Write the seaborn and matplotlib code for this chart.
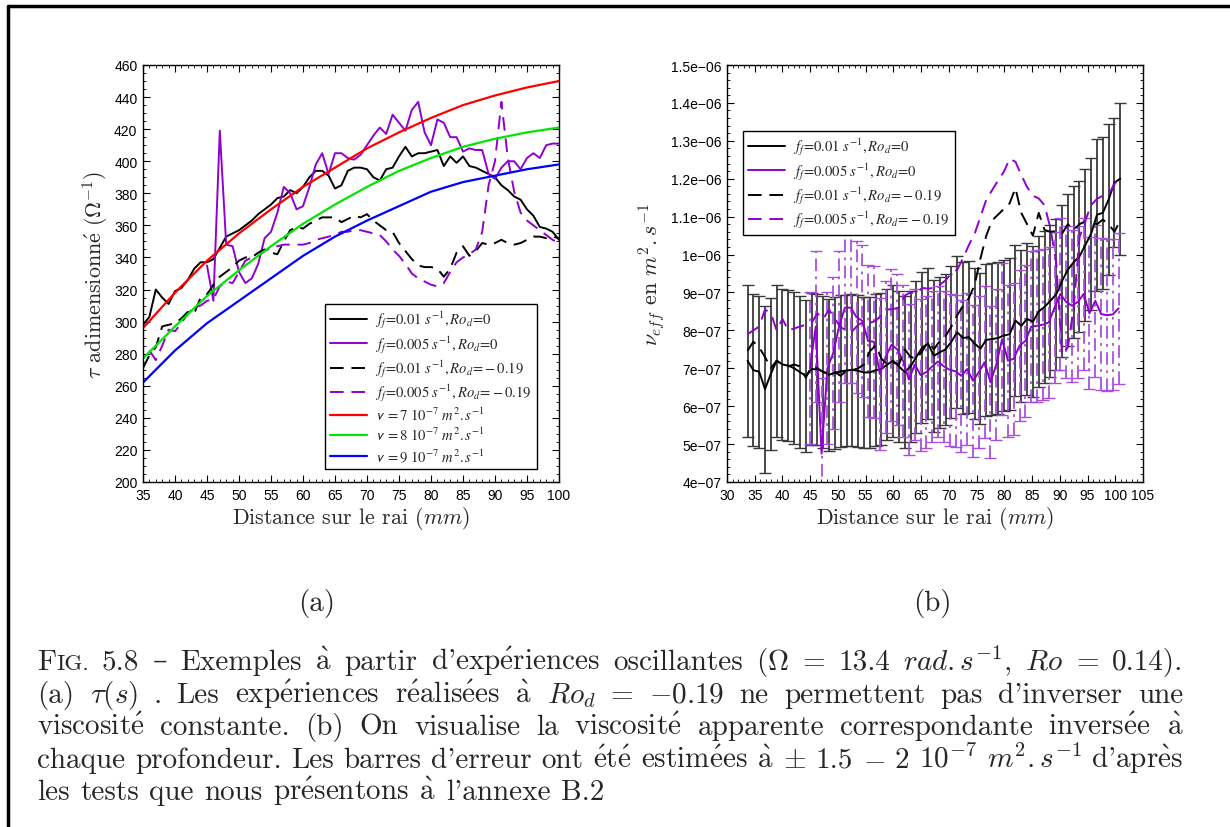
import numpy as np
import matplotlib
matplotlib.use('Agg')
import matplotlib.pyplot as plt
from matplotlib.lines import Line2D
from matplotlib.ticker import MultipleLocator
from matplotlib.font_manager import FontProperties
import seaborn as sns

# ---------------- (a) tau adimensionné en fonction de la distance ----------------
dist_f01_ro0 = list(range(35, 101))
tau_f01_ro0 = [298, 303, 320, 315, 311, 319, 321, 326, 333, 337, 337, 339, 346, 353, 355, 357,
               360, 363, 367, 370, 373, 377, 378, 382, 380, 384, 390, 394, 394, 391, 383, 385,
               394, 396, 396, 395, 390, 388, 395, 396, 403, 409, 403, 405, 405, 406, 407, 397,
               403, 399, 403, 397, 396, 394, 392, 390, 385, 382, 378, 376, 370, 366, 359, 358,
               356, 351]

dist_f005_ro0 = list(range(45, 101))
tau_f005_ro0 = [335, 313, 419, 348, 347, 331, 324, 327, 336, 352, 356, 368, 384, 380, 370, 372,
                384, 398, 405, 392, 405, 405, 402, 401, 404, 410, 416, 421, 417, 429, 424, 419,
                432, 437, 418, 410, 426, 424, 415, 415, 406, 408, 407, 407, 392, 389, 396, 400,
                400, 395, 402, 405, 402, 410, 411, 411]

dist_f01_rod = list(range(35, 101))
tau_f01_rod = [271, 279, 284, 297, 298, 299, 302, 306, 305, 315, 317, 323, 328, 331, 334, 338,
               340, 340, 343, 345, 343, 342, 350, 357, 359, 358, 361, 363, 365, 365, 365, 362,
               364, 366, 365, 367, 363, 360, 357, 356, 349, 344, 339, 335, 334, 334, 333, 328,
               333, 343, 347, 341, 344, 349, 348, 349, 351, 349, 348, 349, 351, 353, 353, 352,
               353, 352]

dist_f005_rod = list(range(36, 101))
tau_f005_rod = [282, 276, 285, 295, 294, 299, 305, 309, 310, 313, 314, 322, 325, 324, 331, 338,
                340, 341, 344, 346, 347, 348, 348, 348, 348, 349, 351, 352, 353, 354, 356, 356,
                357, 357, 356, 355, 354, 350, 345, 341, 336, 330, 327, 325, 323, 322, 324, 331,
                337, 340, 342, 345, 356, 385, 400, 437, 402, 381, 368, 363, 360, 357, 354, 351,
                349]

dist_theo = list(range(35, 101, 5))
tau_nu7 = [296, 318, 338, 355, 370, 384, 396, 408, 418, 427, 435, 441, 446, 450]
tau_nu8 = [277, 297, 316, 332, 347, 361, 373, 384, 394, 402, 409, 414, 418, 421]
tau_nu9 = [262, 282, 299, 313, 327, 341, 353, 363, 372, 381, 387, 391, 395, 398]

# ---------------- (b) viscosité effective (x 1e-7 m2/s) ----------------
dist_b = np.round(33.7 + 1.05 * np.arange(65), 2)
nu_f01_ro0 = [7.2, 6.95, 6.91, 6.45, 6.85, 7.2, 7.1, 7.07, 7.0, 6.9, 6.8, 6.98, 6.97, 6.91, 6.83,
              6.88, 6.92, 6.94, 6.96, 6.93, 6.89, 6.89, 6.95, 6.98, 7.1, 7.2, 7.05, 6.9, 7.05,
              7.3, 7.55, 7.65, 7.33, 7.42, 7.5, 7.7, 7.95, 7.8, 7.82, 7.65, 7.52, 7.75, 7.77,
              7.8, 7.86, 7.9, 8.26, 8.12, 8.3, 8.23, 8.5, 8.62, 8.78, 8.95, 9.3, 9.6, 9.8, 9.95,
              10.25, 10.55, 11.05, 11.1, 11.45, 11.9, 12.0]
err_f01_ro0 = [2.0, 2.0, 2.0, 2.2, 2.0, 2.0, 2.0, 2.0, 2.0, 2.0, 2.0, 2.0, 2.0, 2.0, 2.0,
               2.0, 2.0, 2.0, 2.0, 2.0, 2.0, 2.0, 2.0, 2.0, 2.0, 2.0, 2.0, 2.0, 2.0,
               2.0, 2.0, 2.0, 2.0, 2.0, 2.0, 2.0, 2.0, 2.0, 2.0, 2.0, 2.0, 2.0, 2.0,
               2.0, 2.0, 2.0, 2.0, 2.0, 2.0, 2.0, 2.0, 2.0, 2.0, 2.0, 2.0, 2.0, 2.0, 2.0,
               2.0, 2.0, 2.0, 2.0, 2.0, 1.7, 2.0]

dist_b_f005 = np.round(44.95 + 1.05 * np.arange(54), 2)
nu_f005_ro0 = [7.0, 8.1, 4.75, 7.0, 7.4, 8.1, 8.6, 8.6, 8.35, 8.25, 7.72, 7.7, 6.85, 7.3, 7.62,
               7.5, 7.2, 6.7, 7.1, 6.82, 6.9, 7.05, 7.18, 7.05, 6.96, 6.92, 6.8, 6.98, 6.67, 6.9,
               7.16, 6.63, 7.1, 7.77, 7.2, 7.25, 7.6, 7.72, 8.1, 8.12, 8.15, 8.21, 8.6, 8.96,
               8.75, 8.65, 8.75, 8.96, 8.45, 8.78, 8.43, 8.4, 8.42, 8.58]
err_f005_ro0 = [2.0] * 54

nu_f01_rod = [7.46, 7.7, 7.55, 7.3, 7.0, 7.2, 7.1, 7.05, 7.1, 7.05, 6.75, 7.05, 7.0, 6.9, 6.85,
              6.9, 6.8, 6.95, 6.95, 7.0, 7.1, 7.45, 7.6, 7.25, 7.1, 7.15, 7.1, 7.5, 7.3, 7.25,
              7.45, 7.7, 7.5, 7.72, 7.85, 8.1, 8.4, 8.65, 8.85, 9.2, 9.9, 10.5, 10.9, 11.05,
              11.2, 11.35, 11.75, 11.1, 10.8, 10.5, 11.1, 10.65, 10.6, 10.62, 10.55, 10.8, 10.65,
              10.8, 10.88, 10.85, 10.8, 10.92, 10.8, 10.6, 10.9]
nu_f005_rod = [7.9, 8.0, 8.1, 8.55, 8.45, 8.0, 8.3, 8.0, 8.05, 8.1, 8.15, 8.2, 8.45, 8.3, 8.55,
               8.3, 8.08, 8.0, 7.98, 8.15, 8.22, 8.2, 8.25, 8.4, 8.55, 8.56, 8.6, 8.92, 9.0,
               8.98, 9.12, 9.1, 9.12, 9.2, 9.32, 9.5, 9.6, 9.9, 10.25, 10.55, 11.0, 11.45, 11.7,
               11.95, 12.18, 12.52, 12.45, 12.1, 11.78, 11.55, 11.48, 11.3, 10.7, 9.8, 7.35,
               7.55, 8.6, 10.45, 10.9, 11.3, 11.47, 11.55, 11.6, 11.85, 12.1]

PURPLE = '#9000d0'
PURPLE_ERR = '#a94fe0'
CAP_FONT = ['cmr10', 'DejaVu Serif']


def acc(s):
    # accents en mathtext (cmr10 n'a pas les lettres accentuées)
    return (s.replace('\u00e9', r'$\mathrm{\acute{e}}$')
             .replace('\u00e8', r'$\mathrm{\grave{e}}$')
             .replace('\u00e0', r'$\mathrm{\grave{a}}$'))


sns.set_style('ticks')
plt.rcParams['font.family'] = ['Liberation Sans', 'DejaVu Sans']
plt.rcParams.update({
    'xtick.direction': 'in', 'ytick.direction': 'in',
    'xtick.top': True, 'ytick.right': True,
    'xtick.major.size': 5, 'ytick.major.size': 5,
    'xtick.minor.size': 2.5, 'ytick.minor.size': 2.5,
    'xtick.major.width': 0.8, 'ytick.major.width': 0.8,
    'axes.linewidth': 1.0, 'axes.edgecolor': 'black',
    'xtick.color': 'black', 'ytick.color': 'black',
})

fig = plt.figure(figsize=(12.3, 8.28), dpi=100)
W, H = 1230, 828
ax1 = fig.add_axes([143 / W, 1 - 483 / H, 416 / W, 417 / H])
ax2 = fig.add_axes([727 / W, 1 - 483 / H, 416 / W, 417 / H])

leg_prop = FontProperties(family='Liberation Serif', style='italic', size=10.5, math_fontfamily='stix')
lbl = [r'$\mathit{f_f\!=\!0.01\ s^{-1}, Ro_d\!=\!0}$',
       r'$\mathit{f_f\!=\!0.005\ s^{-1}, Ro_d\!=\!0}$',
       r'$\mathit{f_f\!=\!0.01\ s^{-1}, Ro_d\!=\!-0.19}$',
       r'$\mathit{f_f\!=\!0.005\ s^{-1}, Ro_d\!=\!-0.19}$']
lw = 1.4
dash = (0, (7, 4))
LAB = 15.8

# ---- panel (a)
sns.lineplot(x=dist_f01_ro0, y=tau_f01_ro0, ax=ax1, color='black', lw=lw, label=lbl[0])
sns.lineplot(x=dist_f005_ro0, y=tau_f005_ro0, ax=ax1, color=PURPLE, lw=lw, label=lbl[1])
sns.lineplot(x=dist_f01_rod, y=tau_f01_rod, ax=ax1, color='black', lw=lw, linestyle=dash, label=lbl[2])
sns.lineplot(x=dist_f005_rod, y=tau_f005_rod, ax=ax1, color=PURPLE, lw=lw, linestyle=dash, label=lbl[3])
sns.lineplot(x=dist_theo, y=tau_nu7, ax=ax1, color='#ff0000', lw=1.6,
             label=r'$\mathsf{v}\ \mathit{=7\ 10^{-7}\ m^2{.}s^{-1}}$')
sns.lineplot(x=dist_theo, y=tau_nu8, ax=ax1, color='#00e600', lw=1.6,
             label=r'$\mathsf{v}\ \mathit{=8\ 10^{-7}\ m^2{.}s^{-1}}$')
sns.lineplot(x=dist_theo, y=tau_nu9, ax=ax1, color='#0000ff', lw=1.6,
             label=r'$\mathsf{v}\ \mathit{=9\ 10^{-7}\ m^2{.}s^{-1}}$')

ax1.set_xlim(35, 100)
ax1.set_ylim(200, 460)
ax1.set_xticks(range(35, 101, 5))
ax1.set_yticks(range(200, 461, 20))
ax1.xaxis.set_minor_locator(MultipleLocator(1))
ax1.yaxis.set_minor_locator(MultipleLocator(5))
leg1 = ax1.legend(loc='upper left', bbox_to_anchor=(0.4375, 0.427), borderaxespad=0,
                  prop=leg_prop, fancybox=False, framealpha=1, edgecolor='black',
                  handlelength=2.5, labelspacing=0.2, borderpad=0.35, handletextpad=0.6)
leg1.get_frame().set_linewidth(1.0)
ax1.set_xlabel(r'Distance sur le rai ($mm$)', fontsize=LAB, family=CAP_FONT,
               math_fontfamily='cm', labelpad=2)
ax1.set_ylabel(acc(r'$\tau$ adimensionné $(\Omega^{-1})$'), fontsize=LAB, family=CAP_FONT,
               math_fontfamily='cm', labelpad=3)

# ---- panel (b)
e1 = ax2.errorbar(dist_b, np.array(nu_f01_ro0) * 1e-7, yerr=np.array(err_f01_ro0) * 1e-7,
                  fmt='none', ecolor='#3a3a3a', elinewidth=1.3, capsize=4.5, capthick=1.0)
e2 = ax2.errorbar(dist_b_f005, np.array(nu_f005_ro0) * 1e-7, yerr=np.array(err_f005_ro0) * 1e-7,
                  fmt='none', ecolor=PURPLE_ERR, elinewidth=1.3, capsize=4.5, capthick=1.0)
e2[2][0].set_linestyle((0, (7, 3, 1.5, 3)))

sns.lineplot(x=dist_b, y=np.array(nu_f01_ro0) * 1e-7, ax=ax2, color='black', lw=lw, label=lbl[0])
sns.lineplot(x=dist_b_f005, y=np.array(nu_f005_ro0) * 1e-7, ax=ax2, color=PURPLE, lw=lw, label=lbl[1])
sns.lineplot(x=dist_b, y=np.array(nu_f01_rod) * 1e-7, ax=ax2, color='black', lw=lw, linestyle=dash, label=lbl[2])
sns.lineplot(x=dist_b, y=np.array(nu_f005_rod) * 1e-7, ax=ax2, color=PURPLE, lw=lw, linestyle=dash, label=lbl[3])

ax2.set_xlim(30, 105)
ax2.set_ylim(4e-7, 1.5e-6)
ax2.set_xticks(range(30, 106, 5))
nu_ticks = [4e-7, 5e-7, 6e-7, 7e-7, 8e-7, 9e-7, 1e-6, 1.1e-6, 1.2e-6, 1.3e-6, 1.4e-6, 1.5e-6]
nu_labels = ['4e\u221207', '5e\u221207', '6e\u221207', '7e\u221207', '8e\u221207', '9e\u221207',
             '1e\u221206', '1.1e\u221206', '1.2e\u221206', '1.3e\u221206', '1.4e\u221206', '1.5e\u221206']
ax2.set_yticks(nu_ticks)
ax2.set_yticklabels(nu_labels)
ax2.xaxis.set_minor_locator(MultipleLocator(1))
ax2.yaxis.set_minor_locator(MultipleLocator(2e-8))
leg2 = ax2.legend(loc='upper left', bbox_to_anchor=(0.0385, 0.842), borderaxespad=0,
                  prop=leg_prop, fancybox=False, framealpha=1, edgecolor='black',
                  handlelength=2.5, labelspacing=0.2, borderpad=0.35, handletextpad=0.6)
leg2.get_frame().set_linewidth(1.0)
ax2.set_xlabel(r'Distance sur le rai ($mm$)', fontsize=LAB, family=CAP_FONT,
               math_fontfamily='cm', labelpad=2)
ax2.set_ylabel(r'$\nu_{eff}$ en $m^2{.}s^{-1}$', fontsize=LAB, family=CAP_FONT,
               math_fontfamily='cm', labelpad=3)

for ax in (ax1, ax2):
    ax.tick_params(which='both', labelsize=10, pad=4)
    for s in ax.spines.values():
        s.set_visible(True)
        s.set_color('black')

# ---- page frame
fig.add_artist(Line2D([8 / W, 1], [1 - 7 / H, 1 - 7 / H], transform=fig.transFigure, color='black', lw=2.5))
fig.add_artist(Line2D([8 / W, 8 / W], [0, 1 - 7 / H], transform=fig.transFigure, color='black', lw=2.5))

# ---- sub-captions and caption
CAP_SIZE = 21
fig.text(317 / W, 1 - 611 / H, '(a)', fontsize=CAP_SIZE, family=CAP_FONT, ha='center', va='baseline')
fig.text(932 / W, 1 - 611 / H, '(b)', fontsize=CAP_SIZE, family=CAP_FONT, ha='center', va='baseline')

renderer = fig.canvas.get_renderer()


def caption_line(tokens, y_px, justify=True, x0=37, x1=1183):
    y = 1 - y_px / H
    groups = []
    for tok in tokens:
        pieces = tok if isinstance(tok, list) else [(tok, CAP_SIZE)]
        arts = [fig.text(0, y, acc(t), fontsize=s, family=CAP_FONT, math_fontfamily='cm',
                         va='baseline') for t, s in pieces]
        ws = [a.get_window_extent(renderer).width for a in arts]
        groups.append((arts, ws))
    total = sum(sum(ws) for _, ws in groups)
    space = 0.36 * CAP_SIZE * 100 / 72
    if justify and len(groups) > 1:
        space = (x1 - x0 - total) / (len(groups) - 1)
    x = x0
    for arts, ws in groups:
        for a, w in zip(arts, ws):
            a.set_x(x / W)
            x += w
        x += space


caption_line([[('F', CAP_SIZE), ('IG.', 16.5)], '5.8', '\u2013', 'Exemples', '\u00e0', 'partir',
              "d'exp\u00e9riences", 'oscillantes', r'($\Omega$', '=', '13.4', r'$rad{.}s^{-1}$,',
              r'$Ro$', '=', '0.14).'], 670)
caption_line(['(a)', r'$\tau(s)$', '.', 'Les', 'exp\u00e9riences', 'r\u00e9alis\u00e9es', '\u00e0',
              r'$Ro_d$', '=', r'$-$0.19', 'ne', 'permettent', 'pas', "d'inverser", 'une'], 703)
caption_line(['viscosit\u00e9', 'constante.', '(b)', 'On', 'visualise', 'la', 'viscosit\u00e9',
              'apparente', 'correspondante', 'invers\u00e9e', '\u00e0'], 735)
caption_line(['chaque', 'profondeur.', 'Les', 'barres', "d'erreur", 'ont', '\u00e9t\u00e9',
              'estim\u00e9es', '\u00e0', r'$\pm$', '1.5', r'$-$', '2', r'$10^{-7}$', r'$m^2{.}s^{-1}$',
              "d'apr\u00e8s"], 768)
caption_line(['les', 'tests', 'que', 'nous', 'pr\u00e9sentons', '\u00e0', "l'annexe", 'B.2'], 800,
             justify=False)

fig.savefig('out.png', dpi=100)
